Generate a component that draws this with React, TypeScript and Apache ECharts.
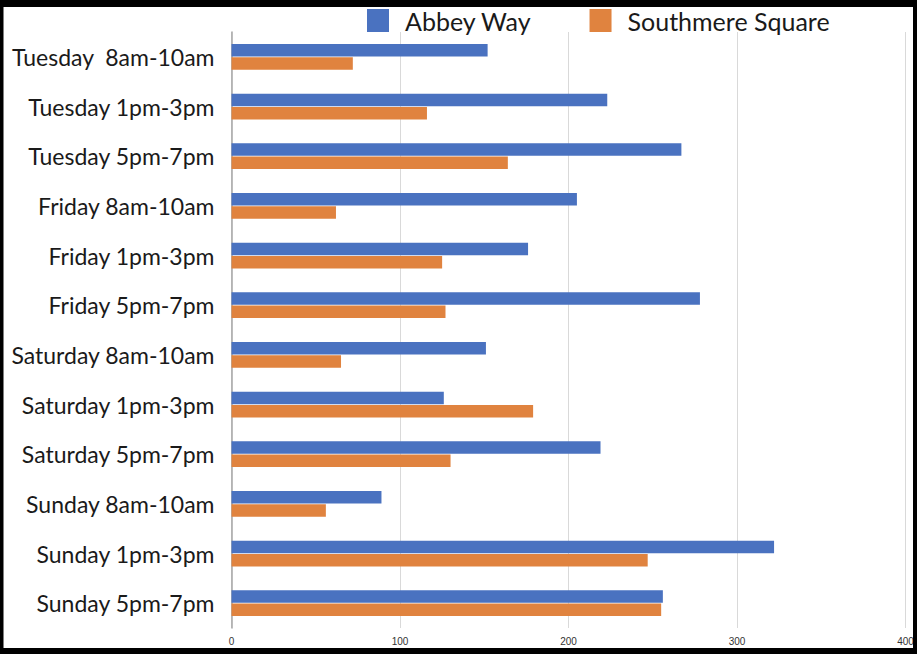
import React, { useEffect, useRef } from "react";
import * as echarts from "echarts";

const categories = [
  "Tuesday  8am-10am",
  "Tuesday 1pm-3pm",
  "Tuesday 5pm-7pm",
  "Friday 8am-10am",
  "Friday 1pm-3pm",
  "Friday 5pm-7pm",
  "Saturday 8am-10am",
  "Saturday 1pm-3pm",
  "Saturday 5pm-7pm",
  "Sunday 8am-10am",
  "Sunday 1pm-3pm",
  "Sunday 5pm-7pm",
];
const abbeyWay = [152, 223, 267, 205, 176, 278, 151, 126, 219, 89, 322, 256];
const southmereSquare = [72, 116, 164, 62, 125, 127, 65, 179, 130, 56, 247, 255];
const xTicks = [0, 100, 200, 300, 400];

export default function App() {
  const ref = useRef<HTMLDivElement>(null);
  useEffect(() => {
    document.body.style.margin = "0";
    const chart = echarts.init(ref.current!, null, { renderer: "svg" });
    const W = 917, H = 654;
    chart.setOption({
      animation: false,
      backgroundColor: "#ffffff",
      textStyle: { fontFamily: "Lato" },
      legend: {
        top: 8,
        left: 367,
        padding: 0,
        itemWidth: 22,
        itemHeight: 23,
        itemGap: 58,
        icon: "rect",
        textStyle: { fontSize: 25, color: "#1a1a1a", fontFamily: "Lato", padding: [0, 0, 0, 11] },
        data: ["Abbey Way", "Southmere Square"],
      },
      grid: { left: 231.5, right: 11.5, top: 32, bottom: 26, containLabel: false },
      xAxis: {
        type: "value",
        min: xTicks[0],
        max: xTicks[xTicks.length - 1],
        interval: 100,
        axisLine: { show: false },
        axisTick: { show: false },
        axisLabel: { fontSize: 10, color: "#333", margin: 8, fontFamily: "Liberation Sans Narrow, Liberation Sans" },
        splitLine: { show: true, lineStyle: { color: "#d9d9d9", width: 1 } },
      },
      yAxis: {
        type: "category",
        data: categories,
        inverse: true,
        axisLine: { show: true, lineStyle: { color: "#a6a6a6", width: 1.5 } },
        axisTick: { show: false },
        axisLabel: { fontSize: 23, color: "#1a1a1a", margin: 17, fontFamily: "Lato" },
      },
      series: [
        {
          name: "Abbey Way",
          type: "bar",
          data: abbeyWay,
          barWidth: 12.5,
          barGap: "6%",
          itemStyle: { color: "#4A72C0" },
        },
        {
          name: "Southmere Square",
          type: "bar",
          data: southmereSquare,
          barWidth: 12.5,
          barGap: "6%",
          itemStyle: { color: "#E0833F" },
        },
      ],
      graphic: [
        { type: "rect", shape: { x: 0, y: 0, width: W, height: 7 }, style: { fill: "#000" }, z: 100 },
        { type: "rect", shape: { x: 0, y: H - 6, width: W, height: 6 }, style: { fill: "#000" }, z: 100 },
        { type: "rect", shape: { x: 0, y: 0, width: 3.5, height: H }, style: { fill: "#000" }, z: 100 },
        { type: "rect", shape: { x: W - 4, y: 0, width: 4, height: H }, style: { fill: "#000" }, z: 100 },
      ],
    });
    return () => chart.dispose();
  }, []);
  return <div ref={ref} style={{ width: 917, height: 654 }} />;
}
